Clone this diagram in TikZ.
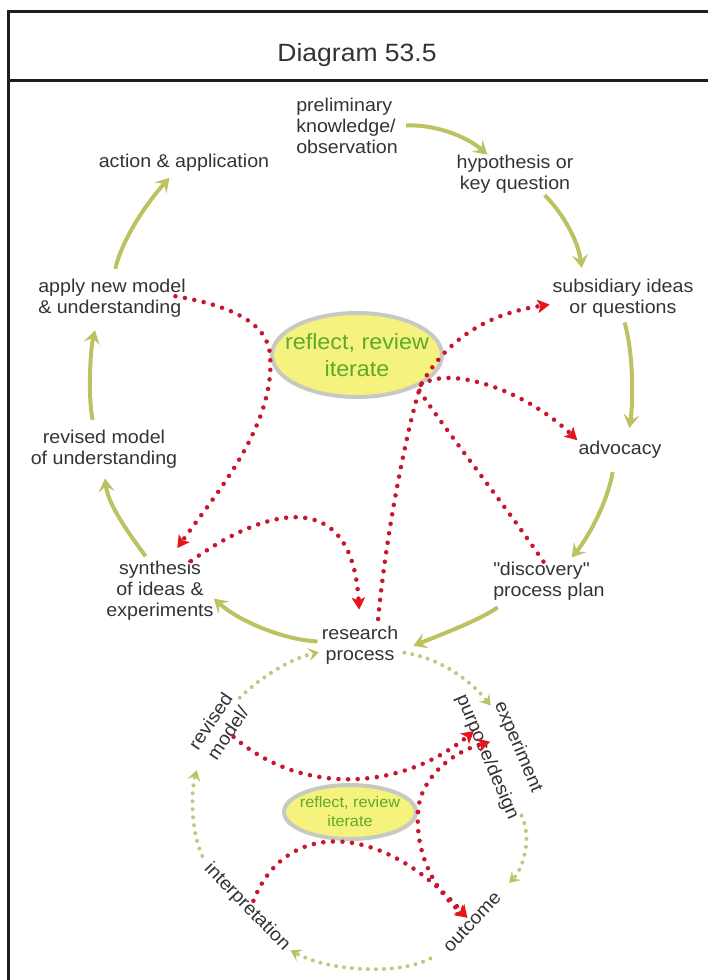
\documentclass[tikz,border=0pt]{standalone}
\usepackage{fontspec}
\setmainfont[FakeStretch=1.06]{Liberation Sans}
\definecolor{inkgray}{HTML}{333333}
\definecolor{framegray}{HTML}{1E1E1E}
\definecolor{arrowgreen}{HTML}{BCC262}
\definecolor{dotgreen}{HTML}{C2C67E}
\definecolor{dotred}{HTML}{C8162E}
\definecolor{tipred}{HTML}{E8141C}
\definecolor{ovalfill}{HTML}{F6F27E}
\definecolor{ovalline}{HTML}{C9C9C4}
\definecolor{ovaltext}{HTML}{5DAA2B}
\usetikzlibrary{arrows.meta,shapes.geometric}

\begin{document}
\begin{tikzpicture}[x=0.75pt,y=-0.75pt,
  lbl/.style={inner sep=0pt,text=inkgray,font=\fontsize{13.9}{15.75}\selectfont,align=center},
  oval/.style={ellipse,draw=ovalline,line width=3pt,fill=ovalfill,text=ovaltext,align=center},
  greenflow/.style={draw=arrowgreen,line width=3pt,-{Stealth[length=10pt,width=12pt,inset=4pt,color=arrowgreen]}},
  dotflow/.style={draw=dotgreen,line width=3pt,line cap=round,dash pattern=on 0pt off 6pt,
    -{Stealth[length=8pt,width=10pt,inset=3.5pt,color=arrowgreen]}},
  redloop/.style={draw=dotred,line width=3.4pt,line cap=round,dash pattern=on 0pt off 7.2pt,
    -{Stealth[length=9pt,width=10pt,inset=2pt,color=tipred]}},
  redline/.style={redloop,-}]
\useasboundingbox (0,0) rectangle (708,980);
\draw[framegray,line width=1.9pt] (708,11.5) -- (8.5,11.5) -- (8.5,980);
\draw[framegray,line width=1.9pt] (8.5,80.5) -- (708,80.5);
\node[lbl,font=\fontsize{18.75}{22}\selectfont] (title) at (357,55.5) {Diagram 53.5};

\node[lbl,anchor=west,align=left] (prelim) at (296,126) {preliminary\\knowledge/\\observation};
\node[lbl] (hyp) at (515,174) {hypothesis or\\key question};
\node[lbl] (act) at (184,163) {action \& application};
\node[lbl] (subs) at (623,298) {subsidiary ideas\\or questions};
\node[lbl,anchor=west,align=left] (apply) at (38,298) {apply new model\\\& understanding};
\node[oval,minimum width=127.5pt,minimum height=63pt,inner sep=-12pt,
  font=\fontsize{16.5}{20}\selectfont] (refl) at (357,355) {reflect, review\\iterate};
\node[lbl] (revmod) at (104,449) {revised model\\of understanding};
\node[lbl] (adv) at (620,450) {advocacy};
\node[lbl] (synth) at (160,591) {synthesis\\of ideas \&\\experiments};
\node[lbl,anchor=west,align=left] (disc) at (493,581) {\textquotedbl discovery\textquotedbl\\process plan};
\node[lbl] (res) at (360,645) {research\\process};

\node[lbl,rotate=56] (revlow) at (219,727) {revised\\model/};
\node[lbl,rotate=-67] (expt) at (518,747) {experiment};
\node[lbl,rotate=-67] (purp) at (487,757) {purpose/design};
\node[lbl,rotate=47] (outc) at (472,922) {outcome};
\node[lbl,rotate=-46] (interp) at (247,907) {interpretation};
\node[oval,minimum width=99pt,minimum height=40.5pt,inner sep=-6pt,
  font=\fontsize{11.5}{14.25}\selectfont] (refl2) at (350,812) {reflect, review\\iterate};
\coordinate (tipA) at (474,731);

\draw[greenflow,shorten <=6pt] (prelim.east) .. controls (432,124) and (465,135) .. (hyp.145);
\draw[greenflow,shorten <=2pt,shorten >=8pt] (hyp.-35) .. controls (562,212) and (578,240) .. (subs.154);
\draw[greenflow,shorten <=4pt,shorten >=10pt] (subs.south) .. controls (634,355) and (633,405) .. (adv.51);
\draw[greenflow,shorten <=10pt,shorten >=4pt] (adv.-120) .. controls (608,500) and (590,535) .. (disc.45);
\draw[greenflow,shorten <=9pt,shorten >=12pt] (disc.-155) .. controls (480,620) and (440,635) .. (res.-10);
\draw[greenflow,shorten <=3pt] (res.175) .. controls (285,640) and (240,622) .. (synth.-8);
\draw[greenflow,shorten <=4.5pt,shorten >=7.5pt] (synth.110) .. controls (130,535) and (108,505) .. (revmod.south);
\draw[greenflow,shorten <=7.5pt,shorten >=10pt] (revmod.115) .. controls (88,400) and (90,350) .. (apply.-125);
\draw[greenflow,shorten <=7.5pt,shorten >=6pt] (apply.87) .. controls (122,240) and (145,205) .. (act.-136);

\draw[dotflow,shorten <=3pt,shorten >=2pt] (revlow.east) .. controls (262,676) and (292,658) .. (res.-170);
\draw[dotflow,shorten <=4.5pt] (res.-10) .. controls (440,658) and (470,680) .. (expt.south west);
\draw[dotflow,shorten >=12pt] (purp.north east) .. controls (533,840) and (522,870) .. (outc.east);
\draw[dotflow,shorten <=13.5pt,shorten >=3pt] (outc.west) .. controls (400,975) and (330,972) .. (interp.east);
\draw[dotflow,shorten <=8pt,shorten >=13pt] (interp.west) .. controls (192,835) and (190,795) .. (revlow.west);

\draw[redloop,shorten <=-8pt,shorten >=12pt] (apply.east) .. controls (228,305) and (268,322) .. (refl.west)
  .. controls (276,425) and (215,495) .. (synth.75);
\draw[redloop,shorten >=12pt] (synth.44) .. controls (262,510) and (352,482) .. (res.north);
\draw[redloop,shorten <=5pt,shorten >=2pt] (res.48) .. controls (388,515) and (412,410) .. (refl.-25)
  .. controls (452,330) and (500,312) .. (subs.185);
\draw[redloop,shorten >=1pt] (refl.-25) .. controls (450,365) and (525,390) .. (adv.north west);
\draw[redline] (disc.106) .. controls (505,505) and (445,430) .. (refl.-28);

\draw[redloop] (revlow.south) .. controls (300,795) and (400,792) .. (tipA);
\draw[redloop] (interp.north) .. controls (285,820) and (380,820) .. (outc.north);
\draw[redloop] (refl2.east) .. controls (420,778) and (452,752) .. (purp.145);
\draw[redloop] (refl2.east) .. controls (415,860) and (440,895) .. (outc.north);
\end{tikzpicture}
\end{document}
